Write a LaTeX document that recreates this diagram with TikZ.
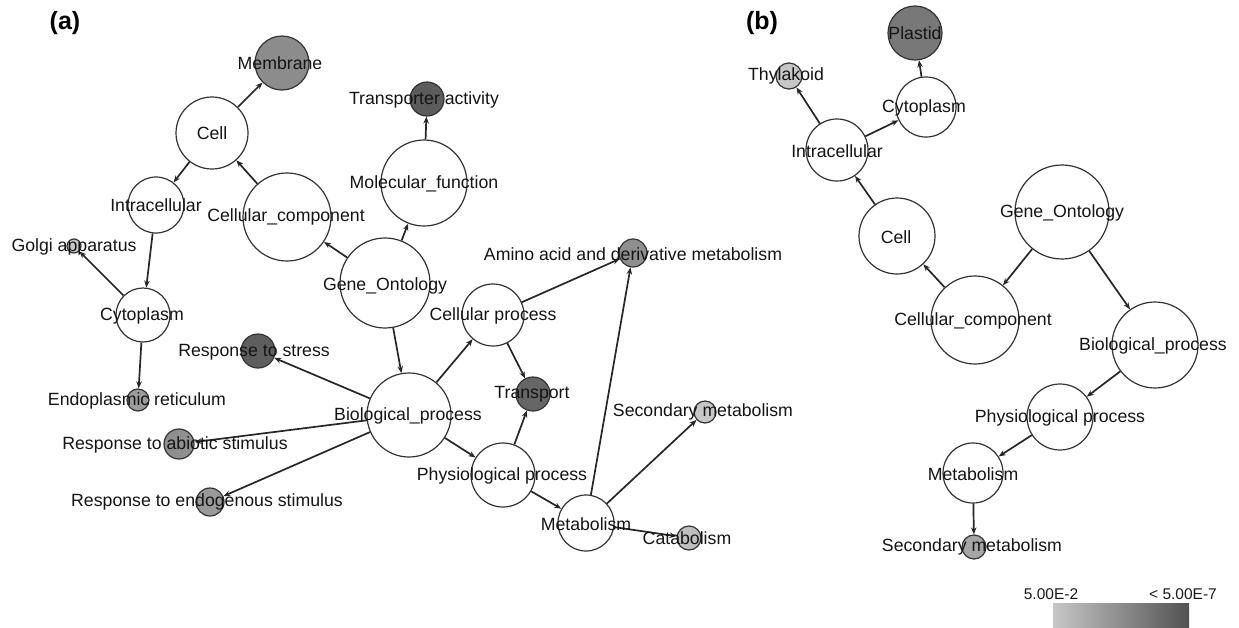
\documentclass[tikz,border=0pt]{standalone}
\usepackage{fontspec}
\setmainfont{Liberation Sans}
\usetikzlibrary{arrows.meta}
\tikzset{
  gocirc/.style={circle, draw=black!80, line width=1.2pt, fill=white, inner sep=0pt, minimum size=#1},
  lbl/.style={font=\fontsize{17.7}{20}\selectfont, inner sep=0pt, text=black!92},
  link/.style={draw=black!85, line width=1.7pt, -{Stealth[length=7pt,width=5.5pt]}},
  panel/.style={font=\fontsize{25}{27}\selectfont\bfseries, inner sep=0pt},
  barlbl/.style={font=\fontsize{15.5}{18}\selectfont, inner sep=0pt, text=black!90}
}
\begin{document}
\begin{tikzpicture}[x=1pt,y=-1pt]
\useasboundingbox (0,0) rectangle (1239,627);
% panel labels
\node[panel] (pa) at (65,23) {(a)};
\node[panel] (pb) at (762,23) {(b)};
% ---------- panel (a) circles ----------
\node[gocirc=54pt, fill=black!45] (memA) at (282,63) {};
\node[gocirc=72pt] (cellA) at (212,133) {};
\node[gocirc=56pt] (intraA) at (156,205) {};
\node[gocirc=88pt] (ccA) at (287,217) {};
\node[gocirc=14pt, fill=black!22] (golgiA) at (74,246) {};
\node[gocirc=54pt] (cytoA) at (143,315) {};
\node[gocirc=22pt, fill=black!39] (erA) at (138,400) {};
\node[gocirc=34pt, fill=black!63] (stressA) at (258,351) {};
\node[gocirc=30pt, fill=black!44] (abioA) at (179,444) {};
\node[gocirc=28pt, fill=black!40] (endoA) at (210,502) {};
\node[gocirc=84pt] (bpA) at (409,415) {};
\node[gocirc=90pt] (goA) at (385,283) {};
\node[gocirc=86pt] (mfA) at (424,183) {};
\node[gocirc=34pt, fill=black!64] (taA) at (427,99) {};
\node[gocirc=28pt, fill=black!44] (aminoA) at (633,253) {};
\node[gocirc=62pt] (cpA) at (493,315) {};
\node[gocirc=34pt, fill=black!60] (transA) at (533,394) {};
\node[gocirc=64pt] (ppA) at (503,475) {};
\node[gocirc=56pt] (metA) at (586,523) {};
\node[gocirc=22pt, fill=black!22] (secA) at (705,412) {};
\node[gocirc=24pt, fill=black!25] (catA) at (689,538) {};
% ---------- panel (a) edges ----------
\draw[link] (cellA) -- (memA);
\draw[link] (ccA) -- (cellA);
\draw[link] (cellA) -- (intraA);
\draw[link] (intraA) -- (cytoA);
\draw[link] (cytoA) -- (golgiA);
\draw[link] (cytoA) -- (erA);
\draw[link] (goA) -- (ccA);
\draw[link] (goA) -- (mfA);
\draw[link] (mfA) -- (taA);
\draw[link] (goA) -- (bpA);
\draw[link] (bpA) -- (stressA);
\draw[link] (bpA) -- (abioA);
\draw[link] (bpA) -- (endoA);
\draw[link] (bpA) -- (cpA);
\draw[link] (bpA) -- (ppA);
\draw[link] (cpA) -- (transA);
\draw[link] (cpA) -- (aminoA);
\draw[link] (ppA) -- (transA);
\draw[link] (ppA) -- (metA);
\draw[link] (metA) -- (aminoA);
\draw[link] (metA) -- (secA);
\draw[link] (metA) -- (catA);
% ---------- panel (a) labels ----------
\node[lbl] (l-memA) at (280,63) {Membrane};
\node[lbl] (l-cellA) at (212,133) {Cell};
\node[lbl] (l-intraA) at (156,205) {Intracellular};
\node[lbl] (l-ccA) at (286,217) {Cellular\_component};
\node[lbl] (l-golgiA) at (74,247) {Golgi apparatus};
\node[lbl] (l-cytoA) at (142,316) {Cytoplasm};
\node[lbl] (l-erA) at (137,401) {Endoplasmic reticulum};
\node[lbl] (l-stressA) at (254,352) {Response to stress};
\node[lbl] (l-abioA) at (175,445) {Response to abiotic stimulus};
\node[lbl] (l-endoA) at (207,502) {Response to endogenous stimulus};
\node[lbl] (l-bpA) at (408,416) {Biological\_process};
\node[lbl] (l-goA) at (385,286) {Gene\_Ontology};
\node[lbl] (l-mfA) at (424,184) {Molecular\_function};
\node[lbl] (l-taA) at (424,100) {Transporter activity};
\node[lbl] (l-aminoA) at (633,254) {Amino acid and derivative metabolism};
\node[lbl] (l-cpA) at (493,316) {Cellular process};
\node[lbl] (l-transA) at (532,394) {Transport};
\node[lbl] (l-ppA) at (502,476) {Physiological process};
\node[lbl] (l-metA) at (586,524) {Metabolism};
\node[lbl] (l-secA) at (703,412) {Secondary metabolism};
\node[lbl] (l-catA) at (687,538) {Catabolism};
% ---------- panel (b) circles ----------
\node[gocirc=54pt, fill=black!53] (plastB) at (915,33) {};
\node[gocirc=26pt, fill=black!22] (thylB) at (789,76) {};
\node[gocirc=60pt] (cytoB) at (926,107) {};
\node[gocirc=62pt] (intraB) at (837,150) {};
\node[gocirc=76pt] (cellB) at (897,236) {};
\node[gocirc=94pt] (goB) at (1062,212) {};
\node[gocirc=88pt] (ccB) at (975,320) {};
\node[gocirc=86pt] (bpB) at (1155,345) {};
\node[gocirc=66pt] (ppB) at (1060,417) {};
\node[gocirc=60pt] (metB) at (973,473) {};
\node[gocirc=24pt, fill=black!35] (secB) at (974,547) {};
% ---------- panel (b) edges ----------
\draw[link] (cytoB) -- (plastB);
\draw[link] (intraB) -- (thylB);
\draw[link] (intraB) -- (cytoB);
\draw[link] (cellB) -- (intraB);
\draw[link] (ccB) -- (cellB);
\draw[link] (goB) -- (ccB);
\draw[link] (goB) -- (bpB);
\draw[link] (bpB) -- (ppB);
\draw[link] (ppB) -- (metB);
\draw[link] (metB) -- (secB);
% ---------- panel (b) labels ----------
\node[lbl] (l-plastB) at (915,33) {Plastid};
\node[lbl] (l-thylB) at (786,76) {Thylakoid};
\node[lbl] (l-cytoB) at (924,108) {Cytoplasm};
\node[lbl] (l-intraB) at (837,151) {Intracellular};
\node[lbl] (l-cellB) at (896,237) {Cell};
\node[lbl] (l-goB) at (1062,213) {Gene\_Ontology};
\node[lbl] (l-ccB) at (973,321) {Cellular\_component};
\node[lbl] (l-bpB) at (1153,346) {Biological\_process};
\node[lbl] (l-ppB) at (1060,418) {Physiological process};
\node[lbl] (l-metB) at (973,474) {Metabolism};
\node[lbl] (l-secB) at (972,547) {Secondary metabolism};
% ---------- colour bar ----------
\shade[left color=black!22, right color=black!68] (1053,603) rectangle (1189,627);
\node[barlbl] (bar-lo) at (1051,594) {5.00E-2};
\node[barlbl] (bar-hi) at (1183,594) {< 5.00E-7};
\end{tikzpicture}
\end{document}
